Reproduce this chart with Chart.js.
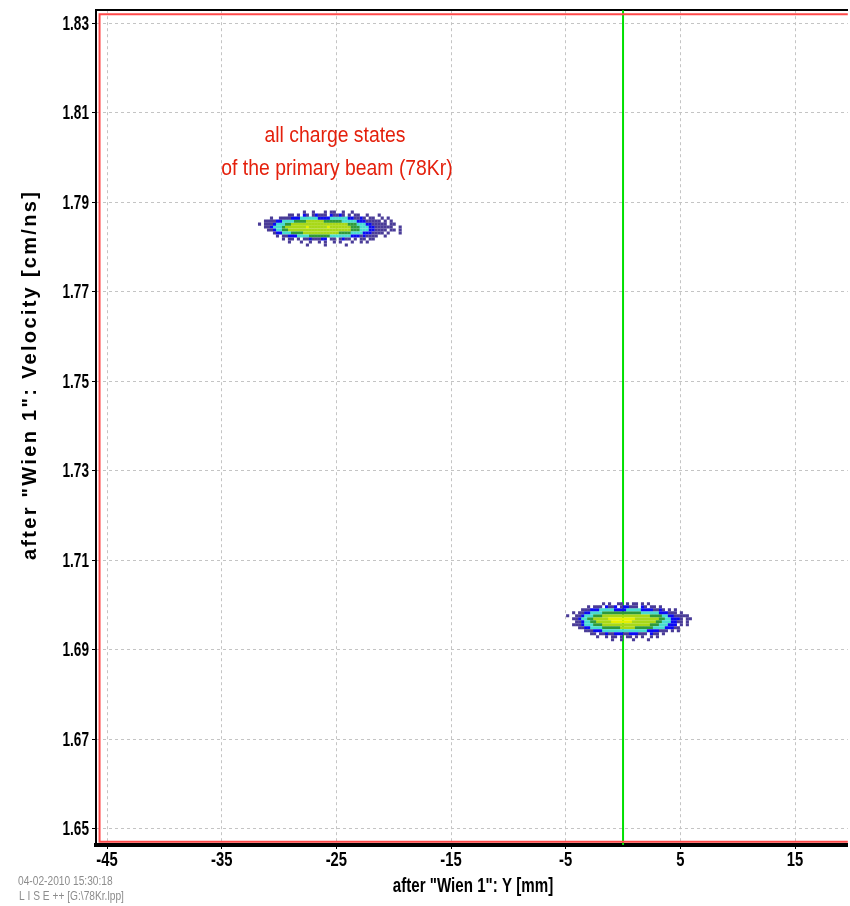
<!DOCTYPE html>
<html>
<head>
<meta charset="utf-8">
<script src="https://cdn.jsdelivr.net/npm/chart.js@4/dist/chart.umd.min.js"></script>
<style>
  body { margin: 0; background: #fff; }
  canvas { display: block; }
</style>
</head>
<body>
<canvas id="chart" width="850" height="906"></canvas>
<script>
// Axis ticks
const xTicks = [-45, -35, -25, -15, -5, 5, 15];
const yTicks = [1.65, 1.67, 1.69, 1.71, 1.73, 1.75, 1.77, 1.79, 1.81, 1.83];

// Counts per cell (0 = empty, 1..6 = colour level)
// beam blob around (-25.5, 1.785), rows from top to bottom
const beamRows = [
  "...............1..1...1.11..1..1................",
  "..........11.1.21.12111.21121.1.11..1...1.......",
  "....1..11112223333332222333333221121.11..1.1....",
  "..111122333344445555554444443333322211111.1.1...",
  "1.11123334455555555555555555554443332211111.11..",
  "..1123334555555565555556555555544433322111111..1",
  "...1123344555555555555555555555444333221111.11.1",
  ".....1223334444555555555555444433332221111.1...1",
  "......1.11222333344444443333333222121111..1.....",
  "........1.11.1.11211122.11.1211.1.11.11.........",
  "..........1...1..1..1.1..1.1...1..1.1...........",
  "................1.....1......1..................."
];
// fragment blob around (-0.5, 1.696)
const fragRows = [
  "............1.1..11.1.11.1.1............",
  ".......1.111.2112.122111.21.11.1........",
  ".....1112223333322223333322221121.1.1...",
  "..1.112233334444444444444333333222111.1.",
  "1..11233344455555555555555554444332211111",
  "..1123344555556666666665555555544332221.11",
  "...112334455555666666655555555443332211.1.",
  "..11123334445555555555555555444333222.1.1",
  "....1122333344444455555444444333322211....",
  "......1112223333333333333332222111.1.1..",
  "........11.1121122211222111.211.1.......",
  "..........1..1.11.1.11.1.1..1.1.........",
  "...............1..1...1....1............"
];
// grid origin (top-left cell) of each blob, and cell size, in data units
const blobX0 = [-31.7, -4.83];
const blobY0 = [1.7878, 1.7003];
const cellW = 0.261;
const cellH = 0.00067;

// axis limits and marker lines
const xRange = [-45.96, 19.6];
const yRange = [1.6464, 1.8329];
const limitX = -45.65;
const limitYTop = 1.832;
const limitYBottom = 1.6471;

const levelColors = ["#4a3c98", "#0a0af5", "#48ddd0", "#2f9a3a", "#a8d818", "#e4f000"];

// turn the grids into one point list per colour level
const levels = levelColors.map(() => []);
[beamRows, fragRows].forEach((rows, b) => {
  rows.forEach((row, r) => {
    for (let c = 0; c < row.length; c++) {
      const lv = parseInt(row[c], 10);
      if (!lv) continue;
      levels[lv - 1].push({ x: blobX0[b] + c * cellW, y: blobY0[b] - r * cellH });
    }
  });
});

const cellDatasets = levels.map((pts, i) => ({
  data: pts,
  pointStyle: "rect",
  pointRadius: 2.2,
  pointHoverRadius: 2.2,
  backgroundColor: levelColors[i],
  borderWidth: 0,
  showLine: false,
}));

// the original uses a condensed font, so squeeze text horizontally
function narrowText(ctx, text, x, y, font, sx, align) {
  ctx.save();
  ctx.font = font;
  ctx.textAlign = align || "center";
  ctx.textBaseline = "middle";
  ctx.translate(x, y);
  ctx.scale(sx, 1);
  ctx.fillText(text, 0, 0);
  ctx.restore();
}

const SANS = "'Liberation Sans', Arial, sans-serif";

// tick labels and other texts drawn on top of the plot
const textPlugin = {
  id: "texts",
  afterDraw(chart) {
    const ctx = chart.ctx;
    const xs = chart.scales.x;
    const ys = chart.scales.y;

    ctx.fillStyle = "#000";
    xTicks.forEach((v) => {
      narrowText(ctx, String(v), xs.getPixelForValue(v), 860, "bold 20px " + SANS, 0.74);
    });
    yTicks.forEach((v) => {
      narrowText(ctx, v.toFixed(2), 89, ys.getPixelForValue(v) + 1, "bold 20px " + SANS, 0.68, "right");
    });

    ctx.fillStyle = "#e4200c";
    narrowText(ctx, "all charge states", 335, 136, "22px " + SANS, 0.88);
    narrowText(ctx, "of the primary beam (78Kr)", 337, 169, "22px " + SANS, 0.88);

    ctx.fillStyle = "#000";
    narrowText(ctx, 'after "Wien 1": Y [mm]', 473, 886, "bold 21px " + SANS, 0.72);

    ctx.save();
    ctx.translate(30, 375);
    ctx.rotate(-Math.PI / 2);
    ctx.font = "bold 20px " + SANS;
    ctx.letterSpacing = "2.3px";
    ctx.textAlign = "center";
    ctx.textBaseline = "middle";
    ctx.fillText('after "Wien 1": Velocity [cm/ns]', 0, 0);
    ctx.restore();

    ctx.fillStyle = "#8c8c8c";
    narrowText(ctx, "04-02-2010 15:30:18", 18, 882, "12px " + SANS, 0.85, "left");
    narrowText(ctx, "L I S E ++ [G:\\78Kr.lpp]", 19, 897, "12px " + SANS, 0.85, "left");
  },
};

const hidden = "rgba(0,0,0,0)";

new Chart(document.getElementById("chart"), {
  type: "scatter",
  data: {
    datasets: [
      ...cellDatasets,
      {
        // red limits
        data: [
          { x: xRange[1] + 1, y: limitYTop },
          { x: limitX, y: limitYTop },
          { x: limitX, y: limitYBottom },
          { x: xRange[1] + 1, y: limitYBottom },
        ],
        showLine: true,
        borderColor: "#ff4a4a",
        borderWidth: 2,
        pointRadius: 0,
      },
      {
        // green marker at Y = 0
        data: [{ x: 0, y: yRange[0] - 0.01 }, { x: 0, y: yRange[1] + 0.01 }],
        showLine: true,
        borderColor: "#00e000",
        borderWidth: 2,
        pointRadius: 0,
      },
    ],
  },
  options: {
    responsive: false,
    animation: false,
    events: [],
    layout: { padding: 0 },
    plugins: { legend: { display: false }, tooltip: { enabled: false } },
    scales: {
      x: {
        type: "linear",
        position: "bottom",
        min: xRange[0],
        max: xRange[1],
        afterBuildTicks: (s) => { s.ticks = xTicks.map((v) => ({ value: v })); },
        afterFit: (s) => { s.height = 61; },
        ticks: { color: hidden, padding: 2, maxRotation: 0 },
        grid: { color: "#c4c4c4", tickColor: "#000", tickLength: 4, lineWidth: 1 },
        border: { color: "#000", width: 4, dash: [3, 3] },
      },
      xTop: {
        type: "linear",
        position: "top",
        min: xRange[0],
        max: xRange[1],
        afterFit: (s) => { s.height = 10; },
        ticks: { display: false },
        grid: { display: false },
        border: { color: "#000", width: 2 },
      },
      y: {
        type: "linear",
        min: yRange[0],
        max: yRange[1],
        afterBuildTicks: (s) => { s.ticks = yTicks.map((v) => ({ value: v })); },
        afterFit: (s) => { s.width = 96; },
        ticks: { color: hidden, padding: 3 },
        grid: { color: "#c4c4c4", tickColor: "#000", tickLength: 4, lineWidth: 1 },
        border: { color: "#000", width: 2, dash: [3, 3] },
      },
    },
  },
  plugins: [textPlugin],
});
</script>
</body>
</html>
